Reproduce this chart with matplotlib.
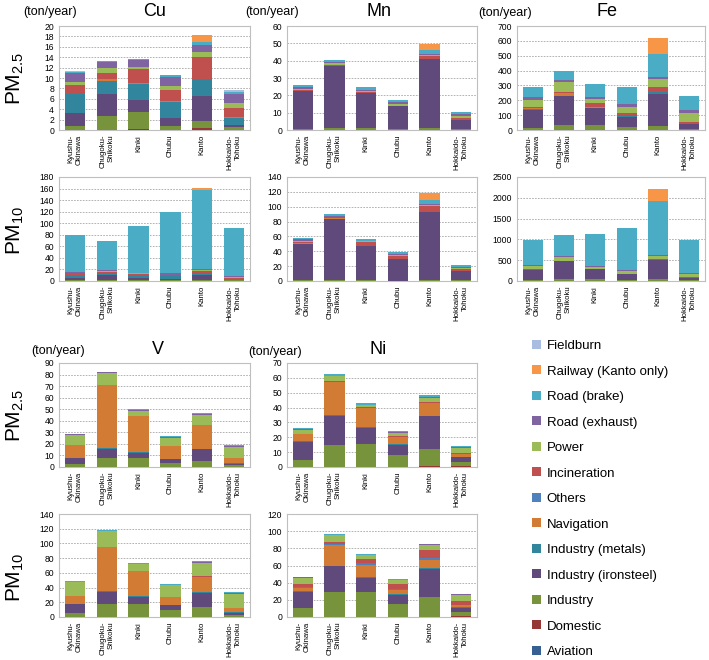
import matplotlib
matplotlib.use('Agg')
import matplotlib.pyplot as plt
import numpy as np
from matplotlib.patches import Patch

plt.rcParams['font.family'] = ['Liberation Sans', 'DejaVu Sans']
plt.rcParams['mathtext.default'] = 'regular'

regions = ['Kyushu-\nOkinawa', 'Chugoku-\nShikoku', 'Kinki', 'Chubu', 'Kanto', 'Hokkaido-\nTohoku']

sources = ['Aviation', 'Domestic', 'Industry', 'Industry (ironsteel)', 'Industry (metals)',
           'Navigation', 'Others', 'Incineration', 'Power', 'Road (exhaust)', 'Road (brake)',
           'Railway (Kanto only)', 'Fieldburn']
colors = ['#376092', '#953735', '#77933C', '#604A7B', '#31859C',
          '#D27B35', '#4F81BD', '#C0504D', '#9BBB59', '#8064A2', '#4BACC6',
          '#F79646', '#A9BDE2']

# ---- Cu ----
cu_pm25 = {
    'Domestic':             [0, 0, 0.2, 0, 0.3, 0],
    'Industry':             [0.7, 2.6, 3.2, 0.8, 1.5, 0.5],
    'Industry (ironsteel)': [2.6, 4.3, 2.3, 1.6, 4.7, 0.5],
    'Industry (metals)':    [3.6, 2.6, 3.2, 3.0, 3.3, 1.4],
    'Navigation':           [0.1, 0.3, 0.1, 0.1, 0.1, 0.05],
    'Incineration':         [1.6, 1.1, 2.7, 2.2, 4.2, 1.8],
    'Power':                [0.7, 1.0, 0.5, 0.7, 0.9, 0.9],
    'Road (exhaust)':       [1.7, 1.2, 1.2, 1.8, 1.4, 1.8],
    'Road (brake)':         [0.2, 0.2, 0.2, 0.3, 0.5, 0.4],
    'Railway (Kanto only)': [0, 0, 0, 0, 1.3, 0],
    'Fieldburn':            [0.05, 0.05, 0.05, 0.05, 0.05, 0.3],
}
cu_pm10 = {
    'Domestic':             [0, 0, 0, 0, 0.5, 0],
    'Industry':             [1, 2, 2, 1, 2, 1],
    'Industry (ironsteel)': [4, 8, 4, 2, 8, 1],
    'Industry (metals)':    [6, 4, 4, 5, 4, 2],
    'Incineration':         [2, 2, 2, 2, 3, 2],
    'Power':                [1, 1, 1, 1, 1, 1],
    'Road (exhaust)':       [2, 1.5, 1.5, 2, 2, 1],
    'Road (brake)':         [63, 51.5, 81.5, 106, 137.5, 84],
    'Railway (Kanto only)': [0, 0, 0, 0, 3, 0],
}

# ---- Mn ----
mn_pm25 = {
    'Industry':             [0.5, 1, 1, 0.7, 1, 0.5],
    'Industry (ironsteel)': [21.8, 36.2, 20.2, 12.9, 39.8, 5.5],
    'Industry (metals)':    [0.3, 0, 0, 0, 0.4, 0],
    'Incineration':         [0.6, 0.3, 0.8, 0.5, 1.3, 1.0],
    'Power':                [0.6, 1.0, 0.5, 0.8, 0.5, 1.0],
    'Road (exhaust)':       [0.8, 1.0, 0.7, 1.0, 1.0, 1.0],
    'Road (brake)':         [1.4, 0.8, 1.5, 1.5, 2.3, 1.2],
    'Railway (Kanto only)': [0, 0, 0, 0, 3.5, 0],
}
mn_pm10 = {
    'Industry':             [1, 1, 1, 0.5, 1, 1],
    'Industry (ironsteel)': [49, 83, 46, 29.5, 91.5, 12],
    'Industry (metals)':    [0, 0, 0, 0, 1, 0],
    'Navigation':           [1, 0.5, 0, 0, 0, 0],
    'Incineration':         [2, 1, 6, 4, 8, 3.5],
    'Power':                [1.5, 1, 0.5, 1, 1, 1],
    'Road (exhaust)':       [1.5, 1, 1, 1, 1.5, 1],
    'Road (brake)':         [2, 2.5, 2.5, 3.5, 5.5, 3.5],
    'Railway (Kanto only)': [0, 0, 0, 0, 8.5, 0],
}

# ---- Fe ----
fe_pm25 = {
    'Industry':             [15, 35, 35, 18, 28, 10],
    'Industry (ironsteel)': [120, 195, 113, 72, 217, 28],
    'Industry (metals)':    [5, 0, 0, 8, 10, 0],
    'Navigation':           [5, 20, 10, 0, 0, 0],
    'Incineration':         [10, 8, 25, 14, 35, 17],
    'Power':                [50, 64, 27, 43, 55, 60],
    'Road (exhaust)':       [17, 16, 12, 17, 15, 18],
    'Road (brake)':         [70, 57, 90, 118, 150, 95],
    'Railway (Kanto only)': [0, 0, 0, 0, 110, 0],
}
fe_pm10 = {
    'Industry':             [20, 40, 40, 20, 40, 15],
    'Industry (ironsteel)': [250, 430, 240, 150, 470, 65],
    'Industry (metals)':    [10, 0, 0, 10, 0, 0],
    'Navigation':           [0, 20, 0, 0, 0, 0],
    'Incineration':         [0, 0, 0, 0, 20, 20],
    'Power':                [70, 90, 50, 70, 60, 70],
    'Road (exhaust)':       [30, 20, 20, 20, 30, 25],
    'Road (brake)':         [605, 495, 785, 1010, 1310, 795],
    'Railway (Kanto only)': [0, 0, 0, 0, 270, 0],
}

# ---- V ----
v_pm25 = {
    'Industry':             [2.5, 7.5, 7.5, 3.5, 5.5, 1.5],
    'Industry (ironsteel)': [5, 8.5, 5, 3.5, 10, 1.5],
    'Industry (metals)':    [0.5, 0.3, 0.3, 0.3, 0.3, 0.3],
    'Navigation':           [11, 54.7, 31.2, 10.7, 20.2, 4.7],
    'Others':               [0.3, 0, 0, 0.3, 0, 0],
    'Incineration':         [0, 0, 0, 0, 0.5, 0],
    'Power':                [8.5, 10.5, 4.8, 7.2, 8.5, 9.5],
    'Road (exhaust)':       [0.5, 0.5, 0.6, 0.6, 0.8, 0.6],
    'Road (brake)':         [0.5, 0.5, 0.5, 0.7, 0.9, 0.8],
}
v_pm10 = {
    'Industry':             [6, 17, 17.5, 9, 13, 3],
    'Industry (ironsteel)': [11, 17.5, 10, 7, 20, 3],
    'Industry (metals)':    [0.5, 0.5, 0.5, 0.5, 0.5, 0.5],
    'Navigation':           [11.5, 60, 34, 10.5, 21.5, 5.5],
    'Incineration':         [0, 0, 0, 0, 1, 0],
    'Power':                [18, 21.5, 9.5, 16, 18, 19.5],
    'Road (exhaust)':       [1, 1, 1, 1, 1, 1],
    'Road (brake)':         [1, 1, 1, 1, 1.5, 1],
}

# ---- Ni ----
ni_pm25 = {
    'Domestic':             [0, 0, 0, 0, 0.5, 0.7],
    'Industry':             [5, 15, 15.5, 8, 11.5, 2.8],
    'Industry (ironsteel)': [12, 19.5, 11, 7, 22, 3],
    'Industry (metals)':    [0.5, 0.6, 0.6, 0.6, 0.6, 0.5],
    'Navigation':           [4.5, 22.4, 12.9, 4.9, 8.4, 1.5],
    'Incineration':         [0.5, 0.3, 0.3, 0.5, 0.5, 1.0],
    'Power':                [2.5, 3.2, 1.2, 2.0, 3.0, 3.2],
    'Road (exhaust)':       [0.6, 0.5, 0.5, 0.6, 0.8, 0.6],
    'Road (brake)':         [0.9, 0.8, 1.0, 0.9, 1.2, 0.9],
}
ni_pm10 = {
    'Domestic':             [0, 0, 0, 0, 0, 1],
    'Industry':             [10, 29, 29.5, 15, 23, 5],
    'Industry (ironsteel)': [19, 30, 16.5, 10.5, 33, 4.5],
    'Industry (metals)':    [1, 1, 1, 1, 1.5, 1],
    'Navigation':           [4, 24, 14, 4.5, 8.5, 2],
    'Others':               [1, 1, 1.5, 2, 3, 1],
    'Incineration':         [4, 2, 5.5, 5, 9, 4],
    'Power':                [7, 8, 4, 5, 6, 7.5],
    'Road (exhaust)':       [0.5, 1, 0.5, 0.5, 0.8, 0.5],
    'Road (brake)':         [0.5, 0.5, 0.5, 0.5, 0.7, 0.5],
}

W, H = 709, 660
fig = plt.figure(figsize=(W / 100, H / 100), dpi=100)


def box(l, t, r, b):
    return [l / W, 1 - b / H, (r - l) / W, (b - t) / H]


def draw(ax, data, ymax, step):
    x = np.arange(len(regions))
    bottom = np.zeros(len(regions))
    for src, col in zip(sources, colors):
        vals = np.array(data.get(src, [0] * len(regions)), dtype=float)
        if vals.sum() == 0:
            continue
        ax.bar(x, vals, 0.64, bottom=bottom, color=col, linewidth=0, zorder=3)
        bottom += vals
    ax.set_xlim(-0.5, len(regions) - 0.5)
    ax.set_ylim(0, ymax)
    ax.set_yticks(np.arange(0, ymax + step / 2, step))
    ax.set_xticks(x)
    ax.set_xticklabels(regions, rotation=90, ma='right', fontsize=5.6)
    ax.tick_params(axis='y', length=0, labelsize=6.2, pad=3.5)
    ax.tick_params(axis='x', length=0, pad=3.5)
    ax.yaxis.grid(True, linestyle=(0, (2, 1.5)), color='#a6a6a6', linewidth=0.6, zorder=0)
    ax.set_axisbelow(True)
    for s in ax.spines.values():
        s.set_color('#bfbfbf')
        s.set_linewidth(0.8)


cols = [(59, 250), (287, 477), (517, 705)]
panels = [
    (cu_pm25, 20, 2, cols[0], (26, 130)),
    (mn_pm25, 60, 10, cols[1], (26, 130)),
    (fe_pm25, 700, 100, cols[2], (26, 130)),
    (cu_pm10, 180, 20, cols[0], (177, 281)),
    (mn_pm10, 140, 20, cols[1], (177, 281)),
    (fe_pm10, 2500, 500, cols[2], (177, 281)),
    (v_pm25, 90, 10, cols[0], (363, 467)),
    (ni_pm25, 70, 10, cols[1], (363, 467)),
    (v_pm10, 140, 20, cols[0], (514, 617)),
    (ni_pm10, 120, 20, cols[1], (514, 617)),
]
for data, ymax, step, (l, r), (t, b) in panels:
    ax = fig.add_axes(box(l, t, r, b))
    draw(ax, data, ymax, step)

# titles and units
for name, xc, yc in [('Cu', 155, 11), ('Mn', 379, 11), ('Fe', 607, 11), ('V', 158, 349), ('Ni', 378, 349)]:
    fig.text(xc / W, 1 - yc / H, name, fontsize=13, ha='center', va='center')
for xc, yc in [(50, 12), (272, 12), (505, 13), (58, 351), (275, 352)]:
    fig.text(xc / W, 1 - yc / H, '(ton/year)', fontsize=9, ha='center', va='center')

# PM row labels
for lab, yc in [('PM$_{2.5}$', 78), ('PM$_{10}$', 230), ('PM$_{2.5}$', 415), ('PM$_{10}$', 577)]:
    fig.text(15 / W, 1 - yc / H, lab, fontsize=15, rotation=90, ha='center', va='center')

# legend (top entry = last stacked source)
handles = [Patch(facecolor=c, edgecolor='none') for c in colors[::-1]]
fig.legend(handles, sources[::-1], loc='upper left', bbox_to_anchor=(532 / W, 1 - 340 / H),
           frameon=False, fontsize=9.5, handlelength=0.65, handleheight=0.65,
           handletextpad=0.45, labelspacing=1.02, borderpad=0, borderaxespad=0)

fig.savefig('out.png', dpi=100)
